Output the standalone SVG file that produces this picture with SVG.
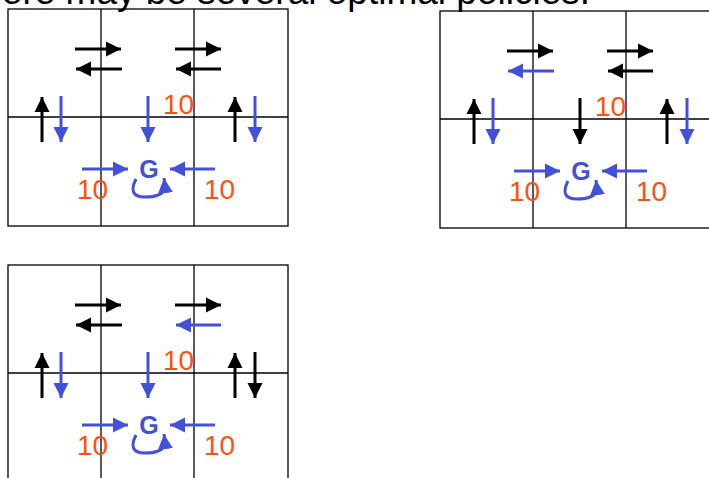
<svg xmlns="http://www.w3.org/2000/svg" width="709" height="478" viewBox="0 0 709 478">
  <style>
    .cell { fill: none; stroke: #000; stroke-width: 1.3; }
    .a-k { stroke: #000; stroke-width: 3; fill: none; marker-end: url(#head-k); }
    .a-b { stroke: #4351d8; stroke-width: 3; fill: none; marker-end: url(#head-b); }
    .loop { stroke: #4351d8; stroke-width: 3; fill: none; marker-end: url(#head-b); }
    .val { font-family: "Liberation Sans", Arial, sans-serif; font-size: 28px; fill: #ff5010; }
    .goal { font-family: "Liberation Sans", Arial, sans-serif; font-size: 25px; font-weight: bold; fill: #4351d8; text-anchor: middle; }
    .title { font-family: "Liberation Sans", Arial, sans-serif; font-size: 37px; fill: #000; text-anchor: end; }
  </style>
  <defs>
    <marker id="head-k" markerUnits="userSpaceOnUse" markerWidth="16" markerHeight="16" viewBox="0 0 16 16" refX="15" refY="8" orient="auto">
      <path d="M0,0.5 L15,8 L0,15.5 Z" fill="#000"/>
    </marker>
    <marker id="head-b" markerUnits="userSpaceOnUse" markerWidth="16" markerHeight="16" viewBox="0 0 16 16" refX="15" refY="8" orient="auto">
      <path d="M0,0.5 L15,8 L0,15.5 Z" fill="#4351d8"/>
    </marker>
  </defs>

  <rect width="709" height="478" fill="#fff"/>

  <text class="title" x="590" y="4">There may be several optimal policies.</text>

  <!-- Policy 1 -->
  <g id="policy-1">
    <g id="grid-1">
      <rect class="cell" x="8" y="9" width="280" height="217"/>
      <line class="cell" x1="101" y1="9" x2="101" y2="226"/>
      <line class="cell" x1="194" y1="9" x2="194" y2="226"/>
      <line class="cell" x1="8" y1="117" x2="288" y2="117"/>
    </g>
    <g id="policy-1-arrows">
      <line class="a-k" x1="75" y1="49" x2="121" y2="49"/>
      <line class="a-k" x1="122" y1="69" x2="76" y2="69"/>
      <line class="a-k" x1="175" y1="49" x2="221" y2="49"/>
      <line class="a-k" x1="221" y1="69" x2="176" y2="69"/>
      <line class="a-k" x1="42" y1="142" x2="42" y2="97"/>
      <line class="a-b" x1="61" y1="96" x2="61" y2="142"/>
      <line class="a-b" x1="148" y1="96" x2="148" y2="142"/>
      <line class="a-k" x1="235" y1="142" x2="235" y2="97"/>
      <line class="a-b" x1="255" y1="96" x2="255" y2="142"/>
      <line class="a-b" x1="82" y1="169" x2="128" y2="169"/>
      <line class="a-b" x1="215" y1="169" x2="170" y2="169"/>
      <path class="loop" d="M136,179 C130,191 133,197 145,197 C156,197 163,195 165,188 L164,178"/>
    </g>
    <g id="policy-1-labels">
      <text class="goal" x="149" y="178">G</text>
      <text class="val" x="163" y="114">10</text>
      <text class="val" x="77" y="199">10</text>
      <text class="val" x="204" y="199">10</text>
    </g>
  </g>

  <!-- Policy 2 -->
  <g id="policy-2" transform="translate(432,2)">
    <g id="grid-2">
      <rect class="cell" x="8" y="9" width="280" height="217"/>
      <line class="cell" x1="101" y1="9" x2="101" y2="226"/>
      <line class="cell" x1="194" y1="9" x2="194" y2="226"/>
      <line class="cell" x1="8" y1="117" x2="288" y2="117"/>
    </g>
    <g id="policy-2-arrows">
      <line class="a-k" x1="75" y1="49" x2="121" y2="49"/>
      <line class="a-b" x1="122" y1="69" x2="76" y2="69"/>
      <line class="a-k" x1="175" y1="49" x2="221" y2="49"/>
      <line class="a-k" x1="221" y1="69" x2="176" y2="69"/>
      <line class="a-k" x1="42" y1="142" x2="42" y2="97"/>
      <line class="a-b" x1="61" y1="96" x2="61" y2="142"/>
      <line class="a-k" x1="148" y1="96" x2="148" y2="142"/>
      <line class="a-k" x1="235" y1="142" x2="235" y2="97"/>
      <line class="a-b" x1="255" y1="96" x2="255" y2="142"/>
      <line class="a-b" x1="82" y1="169" x2="128" y2="169"/>
      <line class="a-b" x1="215" y1="169" x2="170" y2="169"/>
      <path class="loop" d="M136,179 C130,191 133,197 145,197 C156,197 163,195 165,188 L164,178"/>
    </g>
    <g id="policy-2-labels">
      <text class="goal" x="149" y="178">G</text>
      <text class="val" x="163" y="114">10</text>
      <text class="val" x="77" y="199">10</text>
      <text class="val" x="204" y="199">10</text>
    </g>
  </g>

  <!-- Policy 3 -->
  <g id="policy-3" transform="translate(0,256)">
    <g id="grid-3">
      <rect class="cell" x="8" y="9" width="280" height="240"/>
      <line class="cell" x1="101" y1="9" x2="101" y2="240"/>
      <line class="cell" x1="194" y1="9" x2="194" y2="240"/>
      <line class="cell" x1="8" y1="117" x2="288" y2="117"/>
    </g>
    <g id="policy-3-arrows">
      <line class="a-k" x1="75" y1="49" x2="121" y2="49"/>
      <line class="a-k" x1="122" y1="69" x2="76" y2="69"/>
      <line class="a-k" x1="175" y1="49" x2="221" y2="49"/>
      <line class="a-b" x1="221" y1="69" x2="176" y2="69"/>
      <line class="a-k" x1="42" y1="142" x2="42" y2="97"/>
      <line class="a-b" x1="61" y1="96" x2="61" y2="142"/>
      <line class="a-b" x1="148" y1="96" x2="148" y2="142"/>
      <line class="a-k" x1="235" y1="142" x2="235" y2="97"/>
      <line class="a-k" x1="255" y1="96" x2="255" y2="142"/>
      <line class="a-b" x1="82" y1="169" x2="128" y2="169"/>
      <line class="a-b" x1="215" y1="169" x2="170" y2="169"/>
      <path class="loop" d="M136,179 C130,191 133,197 145,197 C156,197 163,195 165,188 L164,178"/>
    </g>
    <g id="policy-3-labels">
      <text class="goal" x="149" y="178">G</text>
      <text class="val" x="163" y="114">10</text>
      <text class="val" x="77" y="199">10</text>
      <text class="val" x="204" y="199">10</text>
    </g>
  </g>
</svg>
